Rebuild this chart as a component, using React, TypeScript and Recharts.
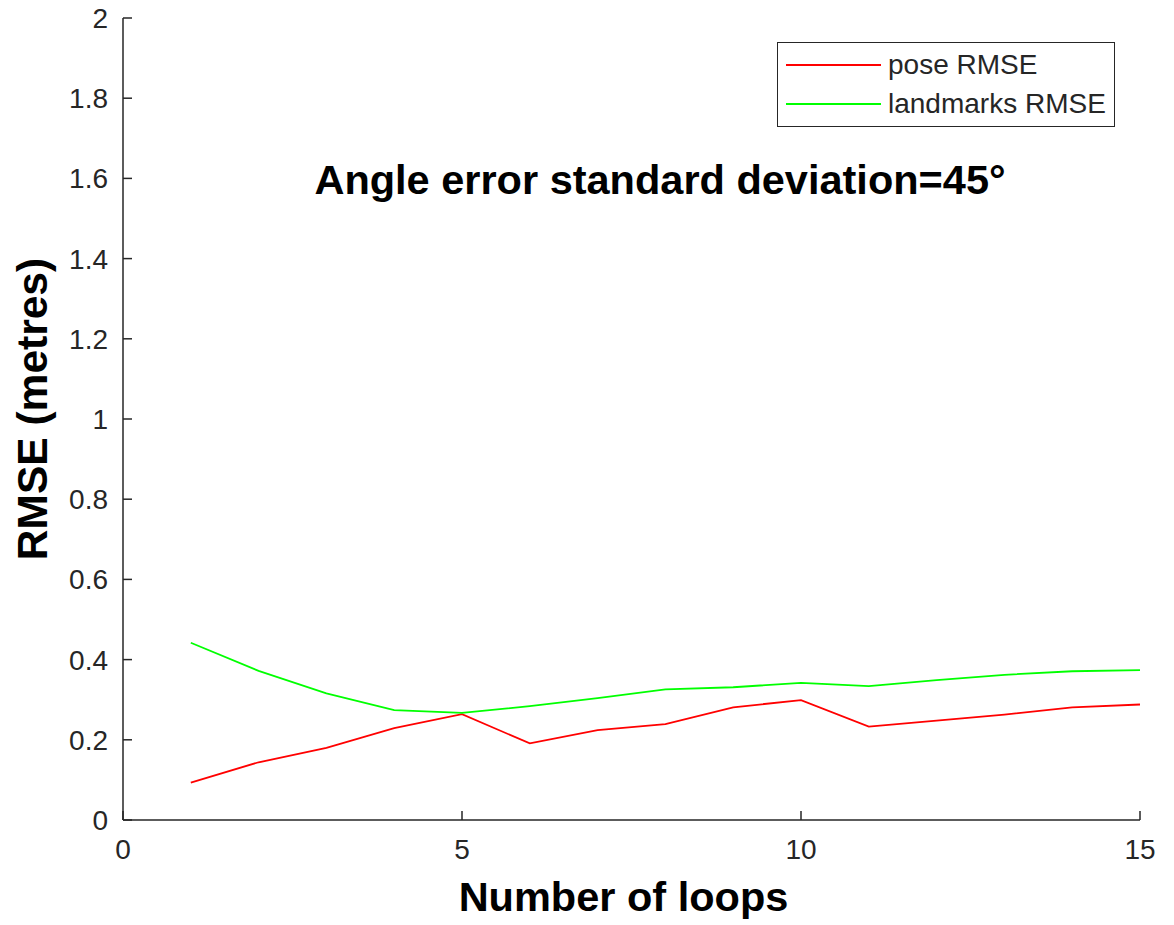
import { LineChart, Line, XAxis, YAxis, Label } from 'recharts';

const loops = [1, 2, 3, 4, 5, 6, 7, 8, 9, 10, 11, 12, 13, 14, 15];
const poseRmse = [0.093, 0.144, 0.18, 0.229, 0.264, 0.191, 0.224, 0.239, 0.281, 0.299, 0.233, 0.248, 0.263, 0.281, 0.288];
const landmarksRmse = [0.442, 0.372, 0.316, 0.274, 0.267, 0.284, 0.304, 0.326, 0.331, 0.342, 0.334, 0.349, 0.362, 0.371, 0.374];
const xTicks = [0, 5, 10, 15];
const yTicks = [0, 0.2, 0.4, 0.6, 0.8, 1, 1.2, 1.4, 1.6, 1.8, 2];
const seriesNames = ['pose RMSE', 'landmarks RMSE'];

const data = loops.map((n, i) => ({ loops: n, pose: poseRmse[i], landmarks: landmarksRmse[i] }));

const FONT = '"Liberation Sans", Arial, sans-serif';
const AXIS = '#262626';
const RED = '#ff0000';
const GREEN = '#00ff00';
const tickStyle = { fill: AXIS, fontSize: 28, fontFamily: FONT };

function fmt(v: number): string {
  return String(Number(v.toFixed(1)));
}

// legend drawn as plain html so it doesn't eat into the plot area
function LegendBox() {
  const rows = [
    { label: seriesNames[0], color: RED, y: 22 },
    { label: seriesNames[1], color: GREEN, y: 61 },
  ];
  return (
    <div
      style={{
        position: 'absolute',
        left: 777,
        top: 42,
        width: 338,
        height: 85,
        boxSizing: 'border-box',
        border: `1.5px solid ${AXIS}`,
        background: '#fff',
        fontFamily: FONT,
        fontSize: 28,
        color: AXIS,
      }}
    >
      {rows.map((r) => (
        <div key={r.label}>
          <div style={{ position: 'absolute', left: 8, top: r.y - 1, width: 95, height: 2, background: r.color }} />
          <div style={{ position: 'absolute', left: 110, top: r.y - 17, lineHeight: '34px', whiteSpace: 'nowrap' }}>
            {r.label}
          </div>
        </div>
      ))}
    </div>
  );
}

export default function App() {
  return (
    <div style={{ position: 'absolute', left: 0, top: 0, width: 1174, height: 925, background: '#fff' }}>
      <LineChart width={1174} height={925} data={data} margin={{ top: 18, right: 34, bottom: 0, left: 0 }}>
        <XAxis
          dataKey="loops"
          type="number"
          domain={[0, 15]}
          ticks={xTicks}
          height={105}
          tick={tickStyle}
          tickSize={-9}
          tickMargin={28}
          stroke={AXIS}
          strokeWidth={1.5}
        >
          <Label
            value="Number of loops"
            position="insideBottom"
            offset={14}
            dx={-8}
            style={{ fontSize: 41.5, fontWeight: 'bold', fill: '#000', fontFamily: FONT }}
          />
        </XAxis>
        <YAxis
          type="number"
          domain={[0, 2]}
          ticks={yTicks}
          width={123}
          tick={tickStyle}
          tickFormatter={fmt}
          tickSize={-9}
          tickMargin={24}
          stroke={AXIS}
          strokeWidth={1.5}
        >
          <Label
            content={({ viewBox }: any) => {
              const cx = viewBox.x + 32;
              const cy = viewBox.y + viewBox.height / 2 - 10;
              return (
                <text
                  x={cx}
                  y={cy}
                  transform={`rotate(-90 ${cx} ${cy})`}
                  textAnchor="middle"
                  dominantBaseline="central"
                  style={{ fontSize: 42.5, fontWeight: 'bold', fill: '#000', fontFamily: FONT }}
                >
                  RMSE (metres)
                </text>
              );
            }}
          />
        </YAxis>
        <Line
          type="linear"
          dataKey="pose"
          name={seriesNames[0]}
          stroke={RED}
          strokeWidth={1.8}
          dot={false}
          isAnimationActive={false}
        />
        <Line
          type="linear"
          dataKey="landmarks"
          name={seriesNames[1]}
          stroke={GREEN}
          strokeWidth={1.8}
          dot={false}
          isAnimationActive={false}
        />
      </LineChart>
      <LegendBox />
      <div
        style={{
          position: 'absolute',
          left: 0,
          width: 1320,
          top: 160,
          textAlign: 'center',
          fontFamily: FONT,
          fontWeight: 'bold',
          fontSize: 41.5,
          lineHeight: '40px',
          color: '#000',
          whiteSpace: 'nowrap',
        }}
      >
        Angle error standard deviation=45°
      </div>
    </div>
  );
}
